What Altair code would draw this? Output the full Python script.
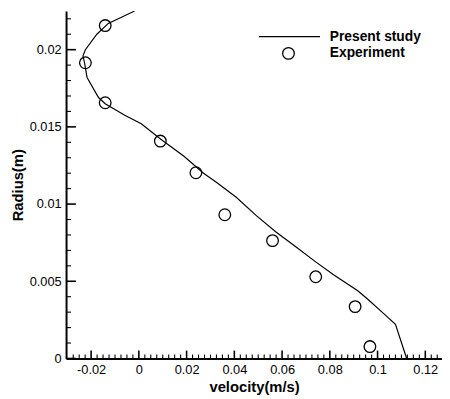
import altair as alt
import pandas as pd

# ---- data ----
line_velocity = [-0.0018, -0.0128, -0.0176, -0.0224, -0.0234, -0.0227, -0.0217,
                 -0.0169, -0.0141, -0.0059, 0.0010, 0.0092, 0.0189, 0.0271,
                 0.0326, 0.0408, 0.0491, 0.0573, 0.0656, 0.0738, 0.0814,
                 0.0917, 0.0958, 0.1027, 0.1075, 0.1122]
line_radius = [0.0225, 0.0217, 0.0210, 0.0200, 0.0196, 0.0191, 0.0182,
               0.0169, 0.0165, 0.01575, 0.0152, 0.0142, 0.0131, 0.0120,
               0.0114, 0.01044, 0.00927, 0.00821, 0.00725, 0.00629, 0.00544,
               0.00438, 0.00385, 0.00289, 0.00221, 0.0]

exp_velocity = [-0.0141, -0.0224, -0.0141, 0.0090, 0.0239, 0.0360, 0.0560,
                0.0741, 0.0906, 0.0968]
exp_radius = [0.02156, 0.01915, 0.01656, 0.01408, 0.01203, 0.00931, 0.00763,
              0.00529, 0.00336, 0.00077]

x_major = [-0.02, 0, 0.02, 0.04, 0.06, 0.08, 0.1, 0.12]
y_major = [0, 0.005, 0.01, 0.015, 0.02]
x_minor = [round(-0.0275 + i * 0.0025, 4) for i in range(62)]
x_minor = [v for v in x_minor if all(abs(v - m) > 1e-9 for m in x_major)]
y_minor = [round(0.001 * i, 4) for i in range(1, 23)]
y_minor = [v for v in y_minor if all(abs(v - m) > 1e-9 for m in y_major)]

legend_labels = ["Present study", "Experiment"]

W, H = 382, 353
FONT = "Liberation Sans"

xscale = alt.Scale(domain=[-0.0305, 0.127], nice=False, zero=False)
yscale = alt.Scale(domain=[0, 0.0225], nice=False, zero=False)

xaxis = alt.Axis(values=x_major, labelExpr="toString(datum.value)", ticks=False,
                 grid=False, domainWidth=2, domainColor="black", labelFont=FONT,
                 labelFontSize=13, labelColor="black", labelPadding=5,
                 labelFlush=False, title="velocity(m/s)", titleFont=FONT,
                 titleFontSize=15, titleFontWeight="bold", titleColor="black",
                 titlePadding=4)
yaxis = alt.Axis(values=y_major, labelExpr="toString(datum.value)", ticks=False,
                 grid=False, domainWidth=2, domainColor="black", labelFont=FONT,
                 labelFontSize=13, labelColor="black", labelPadding=5,
                 labelFlush=False, title="Radius(m)", titleFont=FONT,
                 titleFontSize=15, titleFontWeight="bold", titleColor="black",
                 titlePadding=4)

line_df = pd.DataFrame({"velocity": line_velocity, "radius": line_radius,
                        "i": list(range(len(line_velocity)))})
exp_df = pd.DataFrame({"velocity": exp_velocity, "radius": exp_radius})

line = alt.Chart(line_df).mark_line(color="black", strokeWidth=1.2, clip=True).encode(
    x=alt.X("velocity:Q", scale=xscale, axis=xaxis),
    y=alt.Y("radius:Q", scale=yscale, axis=yaxis),
    order=alt.Order("i:Q"),
)

pts = alt.Chart(exp_df).mark_point(shape="circle", filled=False, size=140,
                                   color="black", strokeWidth=1.3, opacity=1).encode(
    x=alt.X("velocity:Q", scale=xscale, axis=xaxis),
    y=alt.Y("radius:Q", scale=yscale, axis=yaxis),
)

xmaj = alt.Chart(pd.DataFrame({"velocity": x_major})).mark_tick(
    orient="vertical", size=8, thickness=1.6, color="black", opacity=1).encode(
    x=alt.X("velocity:Q", scale=xscale, axis=xaxis), y=alt.value(H - 4))
xmin = alt.Chart(pd.DataFrame({"velocity": x_minor})).mark_tick(
    orient="vertical", size=4, thickness=1.1, color="black", opacity=1).encode(
    x=alt.X("velocity:Q", scale=xscale, axis=xaxis), y=alt.value(H - 2))
ymaj = alt.Chart(pd.DataFrame({"radius": y_major})).mark_tick(
    orient="horizontal", size=10, thickness=1.6, color="black", opacity=1).encode(
    y=alt.Y("radius:Q", scale=yscale, axis=yaxis), x=alt.value(5))
ymin = alt.Chart(pd.DataFrame({"radius": y_minor})).mark_tick(
    orient="horizontal", size=5, thickness=1.1, color="black", opacity=1).encode(
    y=alt.Y("radius:Q", scale=yscale, axis=yaxis), x=alt.value(2.5))

leg_df = pd.DataFrame({"label": legend_labels})
leg_line = alt.Chart(leg_df).transform_filter(alt.datum.label == legend_labels[0]).mark_rule(
    color="black", strokeWidth=1.2).encode(x=alt.value(196), x2=alt.value(258), y=alt.value(26))
leg_pt = alt.Chart(leg_df).transform_filter(alt.datum.label == legend_labels[1]).mark_point(
    shape="circle", filled=False, size=140, color="black", strokeWidth=1.3, opacity=1).encode(
    x=alt.value(226), y=alt.value(43))
leg_t1 = alt.Chart(leg_df).transform_filter(alt.datum.label == legend_labels[0]).mark_text(
    align="left", baseline="middle", font=FONT, fontSize=14, fontWeight="bold", color="black").encode(
    x=alt.value(268), y=alt.value(26), text="label:N")
leg_t2 = alt.Chart(leg_df).transform_filter(alt.datum.label == legend_labels[1]).mark_text(
    align="left", baseline="middle", font=FONT, fontSize=14, fontWeight="bold", color="black").encode(
    x=alt.value(268), y=alt.value(43), text="label:N")

chart = alt.layer(line, pts, xmaj, xmin, ymaj, ymin, leg_line, leg_pt, leg_t1, leg_t2).properties(
    width=W, height=H,
    autosize=alt.AutoSizeParams(type="none"),
    padding={"left": 59, "top": 0, "right": 0, "bottom": 34},
    background="white",
).configure_view(stroke=None)

chart.save("out.html", embed_options={"renderer": "svg", "actions": False})
